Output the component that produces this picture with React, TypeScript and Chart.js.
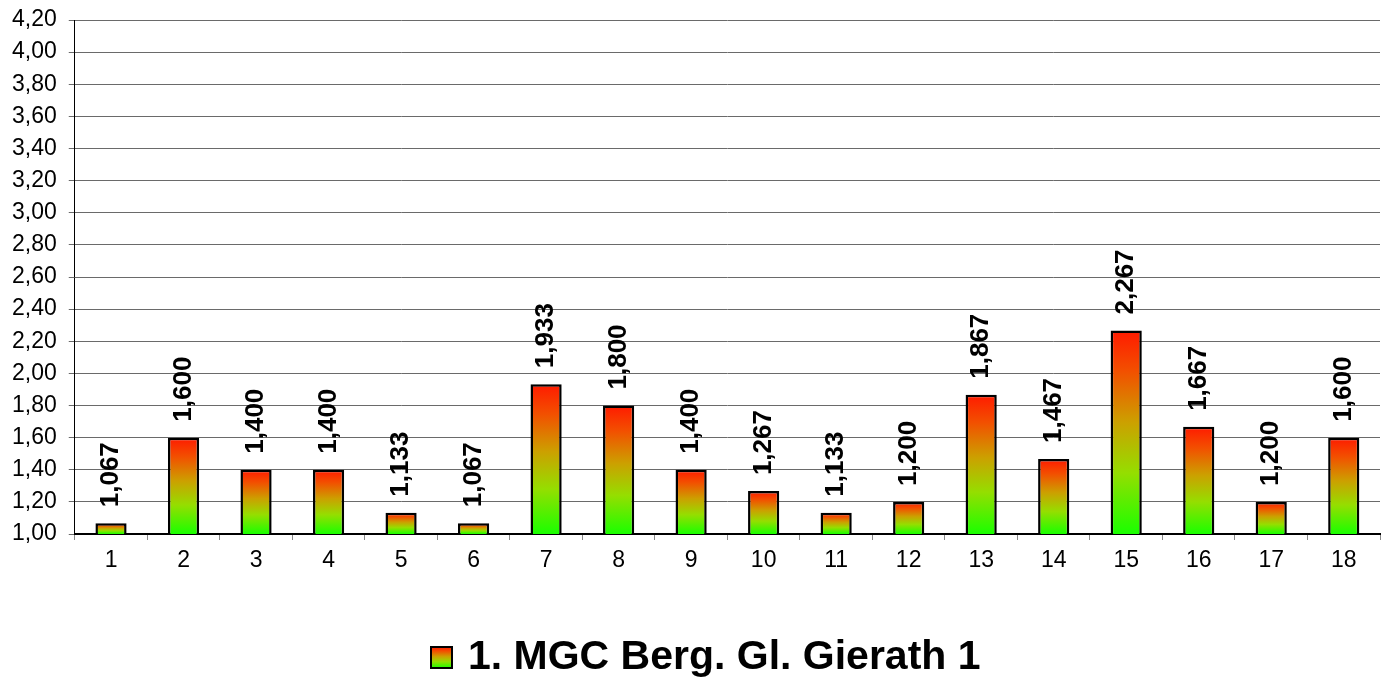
import React, { useEffect, useRef } from "react";
import { Chart, registerables } from "chart.js";

Chart.register(...registerables);

const categories = ["1", "2", "3", "4", "5", "6", "7", "8", "9", "10", "11", "12", "13", "14", "15", "16", "17", "18"];
const seriesLabel = "1. MGC Berg. Gl. Gierath 1";
const seriesValues = [1.067, 1.6, 1.4, 1.4, 1.133, 1.067, 1.933, 1.8, 1.4, 1.267, 1.133, 1.2, 1.867, 1.467, 2.267, 1.667, 1.2, 1.6];
const yMin = 1.0;
const yMax = 4.2;
const yStep = 0.2;

const FONT = "'Liberation Sans', Arial, sans-serif";

const gradientStops: [number, string][] = [
  [0, "#1aff00"],
  [0.3, "#95de00"],
  [0.55, "#cca000"],
  [0.8, "#f25000"],
  [1, "#ff1a00"],
];

function makeLegendSwatch(): HTMLCanvasElement {
  const c = document.createElement("canvas");
  c.width = 23;
  c.height = 23;
  const g = c.getContext("2d")!;
  const grad = g.createLinearGradient(0, 22, 0, 1);
  gradientStops.forEach(([p, col]) => grad.addColorStop(p, col));
  g.fillStyle = grad;
  g.fillRect(1, 1, 21, 21);
  g.strokeStyle = "#000";
  g.lineWidth = 2;
  g.strokeRect(1, 1, 21, 21);
  return c;
}

const valueLabelPlugin = {
  id: "valueLabels",
  afterLayout(chart: any) {
    // nudge legend to the right, as in the reference
    if (chart.legend) {
      chart.legend.left += 18;
      chart.legend.right += 18;
    }
  },
  afterDatasetsDraw(chart: any) {
    const ctx = chart.ctx;
    const meta = chart.getDatasetMeta(0);
    const data = chart.data.datasets[0].data as number[];
    ctx.save();
    ctx.font = `bold 26px ${FONT}`;
    ctx.fillStyle = "#000";
    ctx.textAlign = "left";
    ctx.textBaseline = "middle";
    meta.data.forEach((el: any, i: number) => {
      const txt = data[i].toFixed(3).replace(".", ",");
      ctx.save();
      ctx.translate(el.x, el.y - 16);
      ctx.rotate(-Math.PI / 2);
      ctx.fillText(txt, 0, 0);
      ctx.restore();
    });
    ctx.restore();
  },
};

export default function App() {
  const ref = useRef<HTMLCanvasElement | null>(null);

  useEffect(() => {
    document.body.style.margin = "0";
    const canvas = ref.current!;
    const swatch = makeLegendSwatch();
    const chart = new Chart(canvas, {
      type: "bar",
      data: {
        labels: categories,
        datasets: [
          {
            label: seriesLabel,
            data: seriesValues,
            borderColor: "#000",
            borderWidth: 2.5,
            borderSkipped: false,
            barPercentage: 0.43,
            categoryPercentage: 1,
            pointStyle: swatch as any,
            backgroundColor: (c: any) => {
              const ch = c.chart;
              if (!ch.chartArea || c.type !== "data") return "#f80";
              const y = ch.scales.y;
              const v = c.raw as number;
              const top = y.getPixelForValue(v);
              const bottom = y.getPixelForValue(yMin);
              const g = ch.ctx.createLinearGradient(0, bottom, 0, top);
              gradientStops.forEach(([p, col]) => g.addColorStop(p, col));
              return g;
            },
          },
        ],
      },
      options: {
        responsive: false,
        animation: false,
        layout: { padding: { top: 0, left: 0, right: 8, bottom: 0 } },
        plugins: {
          tooltip: { enabled: false },
          legend: {
            display: true,
            position: "bottom",
            labels: {
              usePointStyle: true,
              pointStyleWidth: 12,
              padding: 5,
              color: "#000",
              font: { family: FONT, size: 41, weight: "bold" },
            },
          },
        },
        scales: {
          x: {
            grid: {
              display: true,
              drawOnChartArea: false,
              drawTicks: true,
              tickLength: 6,
              color: "#888",
              offset: true,
            },
            border: { display: true, color: "#000", width: 2 },
            ticks: {
              color: "#000",
              padding: 7,
              font: { family: FONT, size: 23 },
              maxRotation: 0,
            },
            afterFit: (scale: any) => {
              scale.height = 98;
            },
          },
          y: {
            min: yMin,
            max: yMax,
            grid: { color: "#6a6a6a", tickLength: 6, lineWidth: 1 },
            border: { display: true, color: "#000", width: 1 },
            ticks: {
              stepSize: yStep,
              color: "#000",
              padding: 12,
              font: { family: FONT, size: 23 },
              callback: (v: any) => Number(v).toFixed(2).replace(".", ","),
            },
            afterFit: (scale: any) => {
              scale.paddingTop = 20;
            },
          },
        },
      },
      plugins: [valueLabelPlugin],
    });
    return () => chart.destroy();
  }, []);

  return (
    <div style={{ width: 1388, height: 688 }}>
      <canvas ref={ref} width={1388} height={688} style={{ display: "block" }} />
    </div>
  );
}
